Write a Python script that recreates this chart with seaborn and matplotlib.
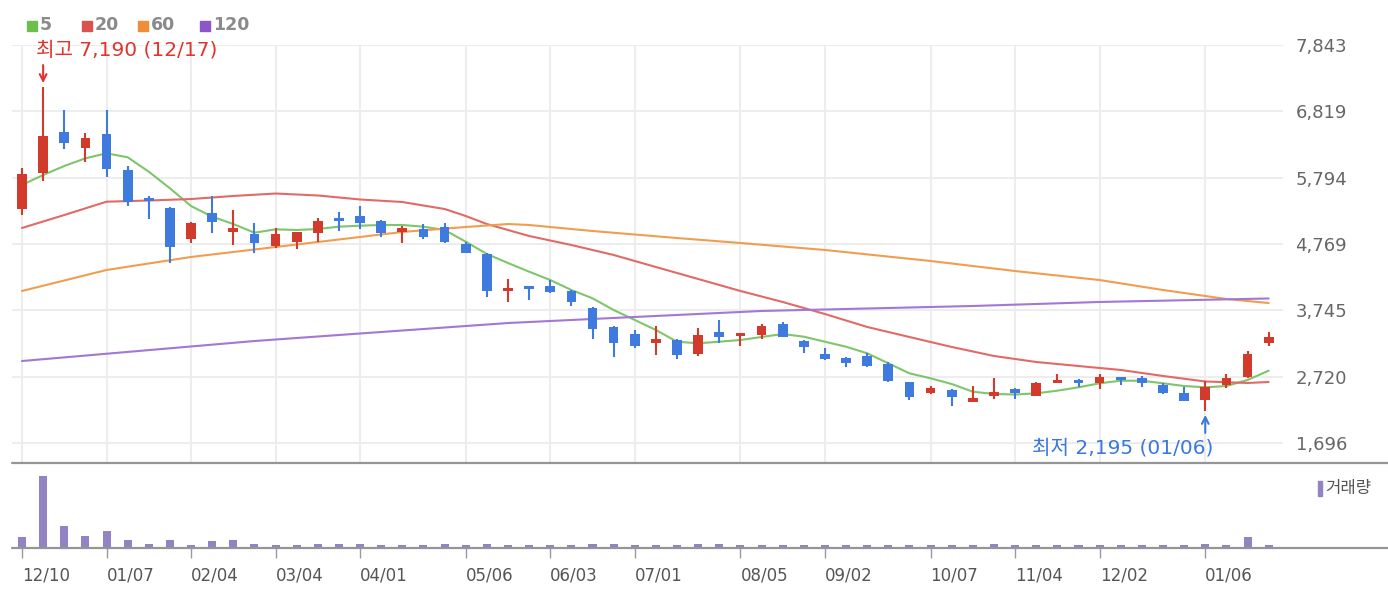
import numpy as np
import pandas as pd
import seaborn as sns
import matplotlib.pyplot as plt
from matplotlib.patches import Rectangle
from matplotlib.lines import Line2D

# weekly candles, week 0 = 2018-12-10
opens = [5305, 5861, 6495, 6257, 6468, 5912, 5475, 5321, 4842, 5253,
         4959, 4924, 4739, 4805, 4935, 5166, 5202, 5129, 4959, 4996,
         5037, 4769, 4615, 4044, 4110, 4121, 4048, 3776, 3492, 3375,
         3245, 3287, 3070, 3415, 3353, 3364, 3534, 3276, 3066, 3004,
         3040, 2916, 2633, 2463, 2514, 2334, 2422, 2530, 2426, 2618,
         2643, 2618, 2711, 2695, 2592, 2473, 2360, 2592, 2711, 3236]
highs = [5939, 7190, 6839, 6479, 6839, 5974, 5511, 5346, 5114, 5511,
         5295, 5098, 5012, 4960, 5166, 5259, 5356, 5140, 5048, 5078,
         5098, 4805, 4625, 4224, 4115, 4213, 4060, 3790, 3500, 3441,
         3503, 3300, 3467, 3596, 3400, 3534, 3569, 3285, 3159, 3029,
         3081, 2952, 2645, 2576, 2525, 2576, 2695, 2540, 2640, 2762,
         2680, 2762, 2715, 2731, 2618, 2556, 2658, 2762, 3121, 3406]
lows = [5217, 5743, 6232, 6041, 5800, 5361, 5151, 4481, 4780, 4935,
        4754, 4626, 4703, 4688, 4805, 4970, 4996, 4873, 4780, 4842,
        4780, 4635, 3946, 3878, 3905, 4010, 3816, 3298, 3020, 3170,
        3055, 2989, 3040, 3236, 3194, 3298, 3330, 3081, 2985, 2865,
        2865, 2640, 2360, 2455, 2267, 2330, 2371, 2371, 2420, 2615,
        2556, 2525, 2592, 2556, 2455, 2345, 2195, 2541, 2700, 3199]
closes = [5846, 6438, 6325, 6402, 5923, 5423, 5438, 4728, 5098, 5114,
          5012, 4780, 4924, 4950, 5129, 5125, 5089, 4935, 5012, 4873,
          4805, 4635, 4044, 4085, 4070, 4033, 3878, 3452, 3236, 3194,
          3298, 3055, 3364, 3328, 3380, 3503, 3338, 3174, 2993, 2927,
          2890, 2653, 2402, 2550, 2402, 2386, 2488, 2463, 2627, 2653,
          2618, 2720, 2669, 2618, 2463, 2349, 2556, 2695, 3066, 3338]
volumes = [320, 2180, 680, 370, 500, 250, 130, 250, 80, 200,
           250, 130, 80, 80, 130, 130, 130, 80, 80, 80,
           130, 80, 130, 80, 80, 80, 80, 130, 130, 80,
           80, 80, 130, 130, 80, 80, 80, 80, 80, 80,
           80, 80, 80, 80, 80, 80, 130, 80, 80, 80,
           80, 80, 80, 80, 80, 80, 130, 80, 320, 80]

# moving averages
ma5 = [5681, 5835, 5974, 6093, 6170, 6109, 5886, 5630, 5356, 5191,
       5078, 4944, 4996, 4986, 5001, 5037, 5052, 5063, 5063, 5037,
       4986, 4805, 4615, 4476, 4342, 4213, 4059, 3931, 3750, 3596,
       3441, 3260, 3236, 3260, 3287, 3333, 3379, 3338, 3260, 3183,
       3081, 2927, 2772, 2695, 2607, 2488, 2453, 2445, 2463, 2504,
       2556, 2618, 2658, 2658, 2618, 2576, 2556, 2576, 2669, 2813]
ma20_weeks = [0, 2, 4, 6, 8, 10, 12, 14, 16, 18, 20, 21, 22, 24, 26, 28, 30,
              32, 34, 36, 38, 40, 42, 44, 46, 48, 50, 52, 54, 56, 58, 59]
ma20 = [5017, 5217, 5423, 5441, 5464, 5511, 5549, 5519, 5457, 5418, 5310,
        5202, 5078, 4893, 4754, 4600, 4414, 4229, 4044, 3874, 3688, 3488,
        3333, 3179, 3040, 2947, 2885, 2824, 2731, 2646, 2623, 2638]
ma60_weeks = [0, 4, 8, 12, 16, 18, 21, 23, 24, 27, 31, 34, 38, 43, 47, 51, 54, 57, 59]
ma60 = [4044, 4368, 4569, 4723, 4878, 4955, 5032, 5078, 5063, 4970, 4862,
        4785, 4677, 4507, 4352, 4213, 4059, 3920, 3858]
ma120_weeks = [0, 11, 15, 23, 28, 35, 38, 45, 51, 59]
ma120 = [2962, 3271, 3364, 3549, 3627, 3735, 3758, 3812, 3874, 3928]

tick_weeks = [0, 4, 8, 12, 16, 21, 25, 29, 34, 38, 43, 47, 51, 56]
tick_labels = ['12/10', '01/07', '02/04', '03/04', '04/01', '05/06', '06/03',
               '07/01', '08/05', '09/02', '10/07', '11/04', '12/02', '01/06']
price_ticks = [1696, 2720, 3745, 4769, 5794, 6819, 7843]
week_dates = pd.date_range('2018-12-10', periods=len(closes), freq='W-MON')

ma_names = ['5', '20', '60', '120']
ma_colors = ['#7fc56c', '#e26a66', '#f19d4f', '#a277d6']
legend_colors = ['#6cbf4f', '#d9534f', '#ef8d3a', '#8a56c8']
up_color = '#d23a2c'
down_color = '#3f7ade'
vol_color = '#9283c5'
korean = ['DejaVu Sans', 'Noto Sans CJK KR']

sns.set_theme(style='white')
plt.rcParams['font.family'] = ['DejaVu Sans']

W, H = 1388, 598
fig = plt.figure(figsize=(W / 100, H / 100), dpi=100)
fig.patch.set_facecolor('white')

left, right = 12, 1283
ax = fig.add_axes([left / W, (H - 463) / H, (right - left) / W, (463 - 45) / H])
axv = fig.add_axes([left / W, (H - 548) / H, (right - left) / W, (548 - 463) / H])

weeks = np.arange(len(closes))
df = pd.DataFrame({'week': weeks, 'open': opens, 'high': highs,
                   'low': lows, 'close': closes, 'volume': volumes})
df['up'] = df['close'] >= df['open']
df['color'] = np.where(df['up'], up_color, down_color)

# candles
ax.vlines(df['week'], df['low'], df['high'], colors=df['color'], lw=1.5, zorder=3)
body_low = df[['open', 'close']].min(axis=1)
body_h = (df['close'] - df['open']).abs().clip(lower=45)
ax.bar(df['week'], body_h, bottom=body_low, width=0.46, color=df['color'],
       linewidth=0, zorder=4)

# moving averages
ma_series = [(weeks, ma5), (ma20_weeks, ma20), (ma60_weeks, ma60), (ma120_weeks, ma120)]
for (xs, ys), c in zip(ma_series, ma_colors):
    sns.lineplot(x=xs, y=ys, color=c, lw=1.5, ax=ax, zorder=2)

xlim = (-10 / 21.13, (right - 22) / 21.13)
ax.set_xlim(xlim)
ax.set_ylim(1387, 7843)
ax.set_xticks(tick_weeks)
ax.set_yticks(price_ticks)
ax.set_yticklabels([f'{v:,}' for v in price_ticks])
ax.yaxis.tick_right()
ax.tick_params(axis='x', length=0, labelbottom=False)
ax.tick_params(axis='y', length=0, pad=9, labelsize=13, labelcolor='#666666')
ax.grid(True, color='#ededed', lw=1.5)
ax.set_axisbelow(True)
for s in ax.spines.values():
    s.set_visible(False)
ax.set_xlabel('')
ax.set_ylabel('')

# high / low annotations
hi = int(np.argmax(highs))
lo = int(np.argmin(lows))
ax.annotate(f'최고 {highs[hi]:,} ({week_dates[hi]:%m/%d})', xy=(hi, highs[hi]),
            xytext=(-5, 27), textcoords='offset points', ha='left', va='center',
            color='#e0342c', fontsize=14.5, family=korean)
ax.annotate('', xy=(hi, highs[hi]), xytext=(0, 16), textcoords='offset points',
            arrowprops=dict(arrowstyle='->', color='#e0342c', lw=1.5, shrinkA=0, shrinkB=3))
ax.annotate(f'최저 {lows[lo]:,} ({week_dates[lo]:%m/%d})', xy=(lo, lows[lo]),
            xytext=(6, -27), textcoords='offset points', ha='right', va='center',
            color='#3a78dc', fontsize=14.5, family=korean)
ax.annotate('', xy=(lo, lows[lo]), xytext=(0, -16), textcoords='offset points',
            arrowprops=dict(arrowstyle='->', color='#3a78dc', lw=1.5, shrinkA=0, shrinkB=3))

# volume
sns.barplot(x=df['week'], y=df['volume'], native_scale=True, color=vol_color,
            saturation=1, width=0.38, linewidth=0, ax=axv)
axv.set_xlim(xlim)
axv.set_ylim(0, max(volumes) * 85 / 72)
axv.set_yticks([])
axv.set_xticks(tick_weeks)
axv.set_xticklabels(tick_labels, ha='left')
axv.tick_params(axis='x', length=7, width=1, color='#9a9a9a', pad=6,
                labelsize=12, labelcolor='#555555', bottom=True)
for lbl in axv.get_xticklabels():
    lbl.set_x(lbl.get_position()[0])
for s in axv.spines.values():
    s.set_visible(False)
axv.set_xlabel('')
axv.set_ylabel('')

# panel separators
for yy in (463, 548):
    fig.add_artist(Line2D([left / W, 1], [(H - yy) / H] * 2, color='#959595', lw=1.6))

# MA legend
slots = [27, 82, 138, 200]
for x0, name, c in zip(slots, ma_names, legend_colors):
    fig.add_artist(Rectangle((x0 / W, (H - 31) / H), 10 / W, 10 / H, color=c,
                             transform=fig.transFigure))
    fig.text((x0 + 13) / W, (H - 25) / H, name, fontsize=12.5, fontweight='bold',
             color='#8a8a8a', va='center', ha='left')

# volume legend
fig.add_artist(Rectangle((1318 / W, (H - 496) / H), 4 / W, 15 / H, color=vol_color,
                         transform=fig.transFigure))
fig.text(1325 / W, (H - 488) / H, '거래량', fontsize=12, color='#555555',
         va='center', ha='left', family=['Noto Sans CJK KR'])

fig.savefig('out.png', dpi=100, facecolor='white')
